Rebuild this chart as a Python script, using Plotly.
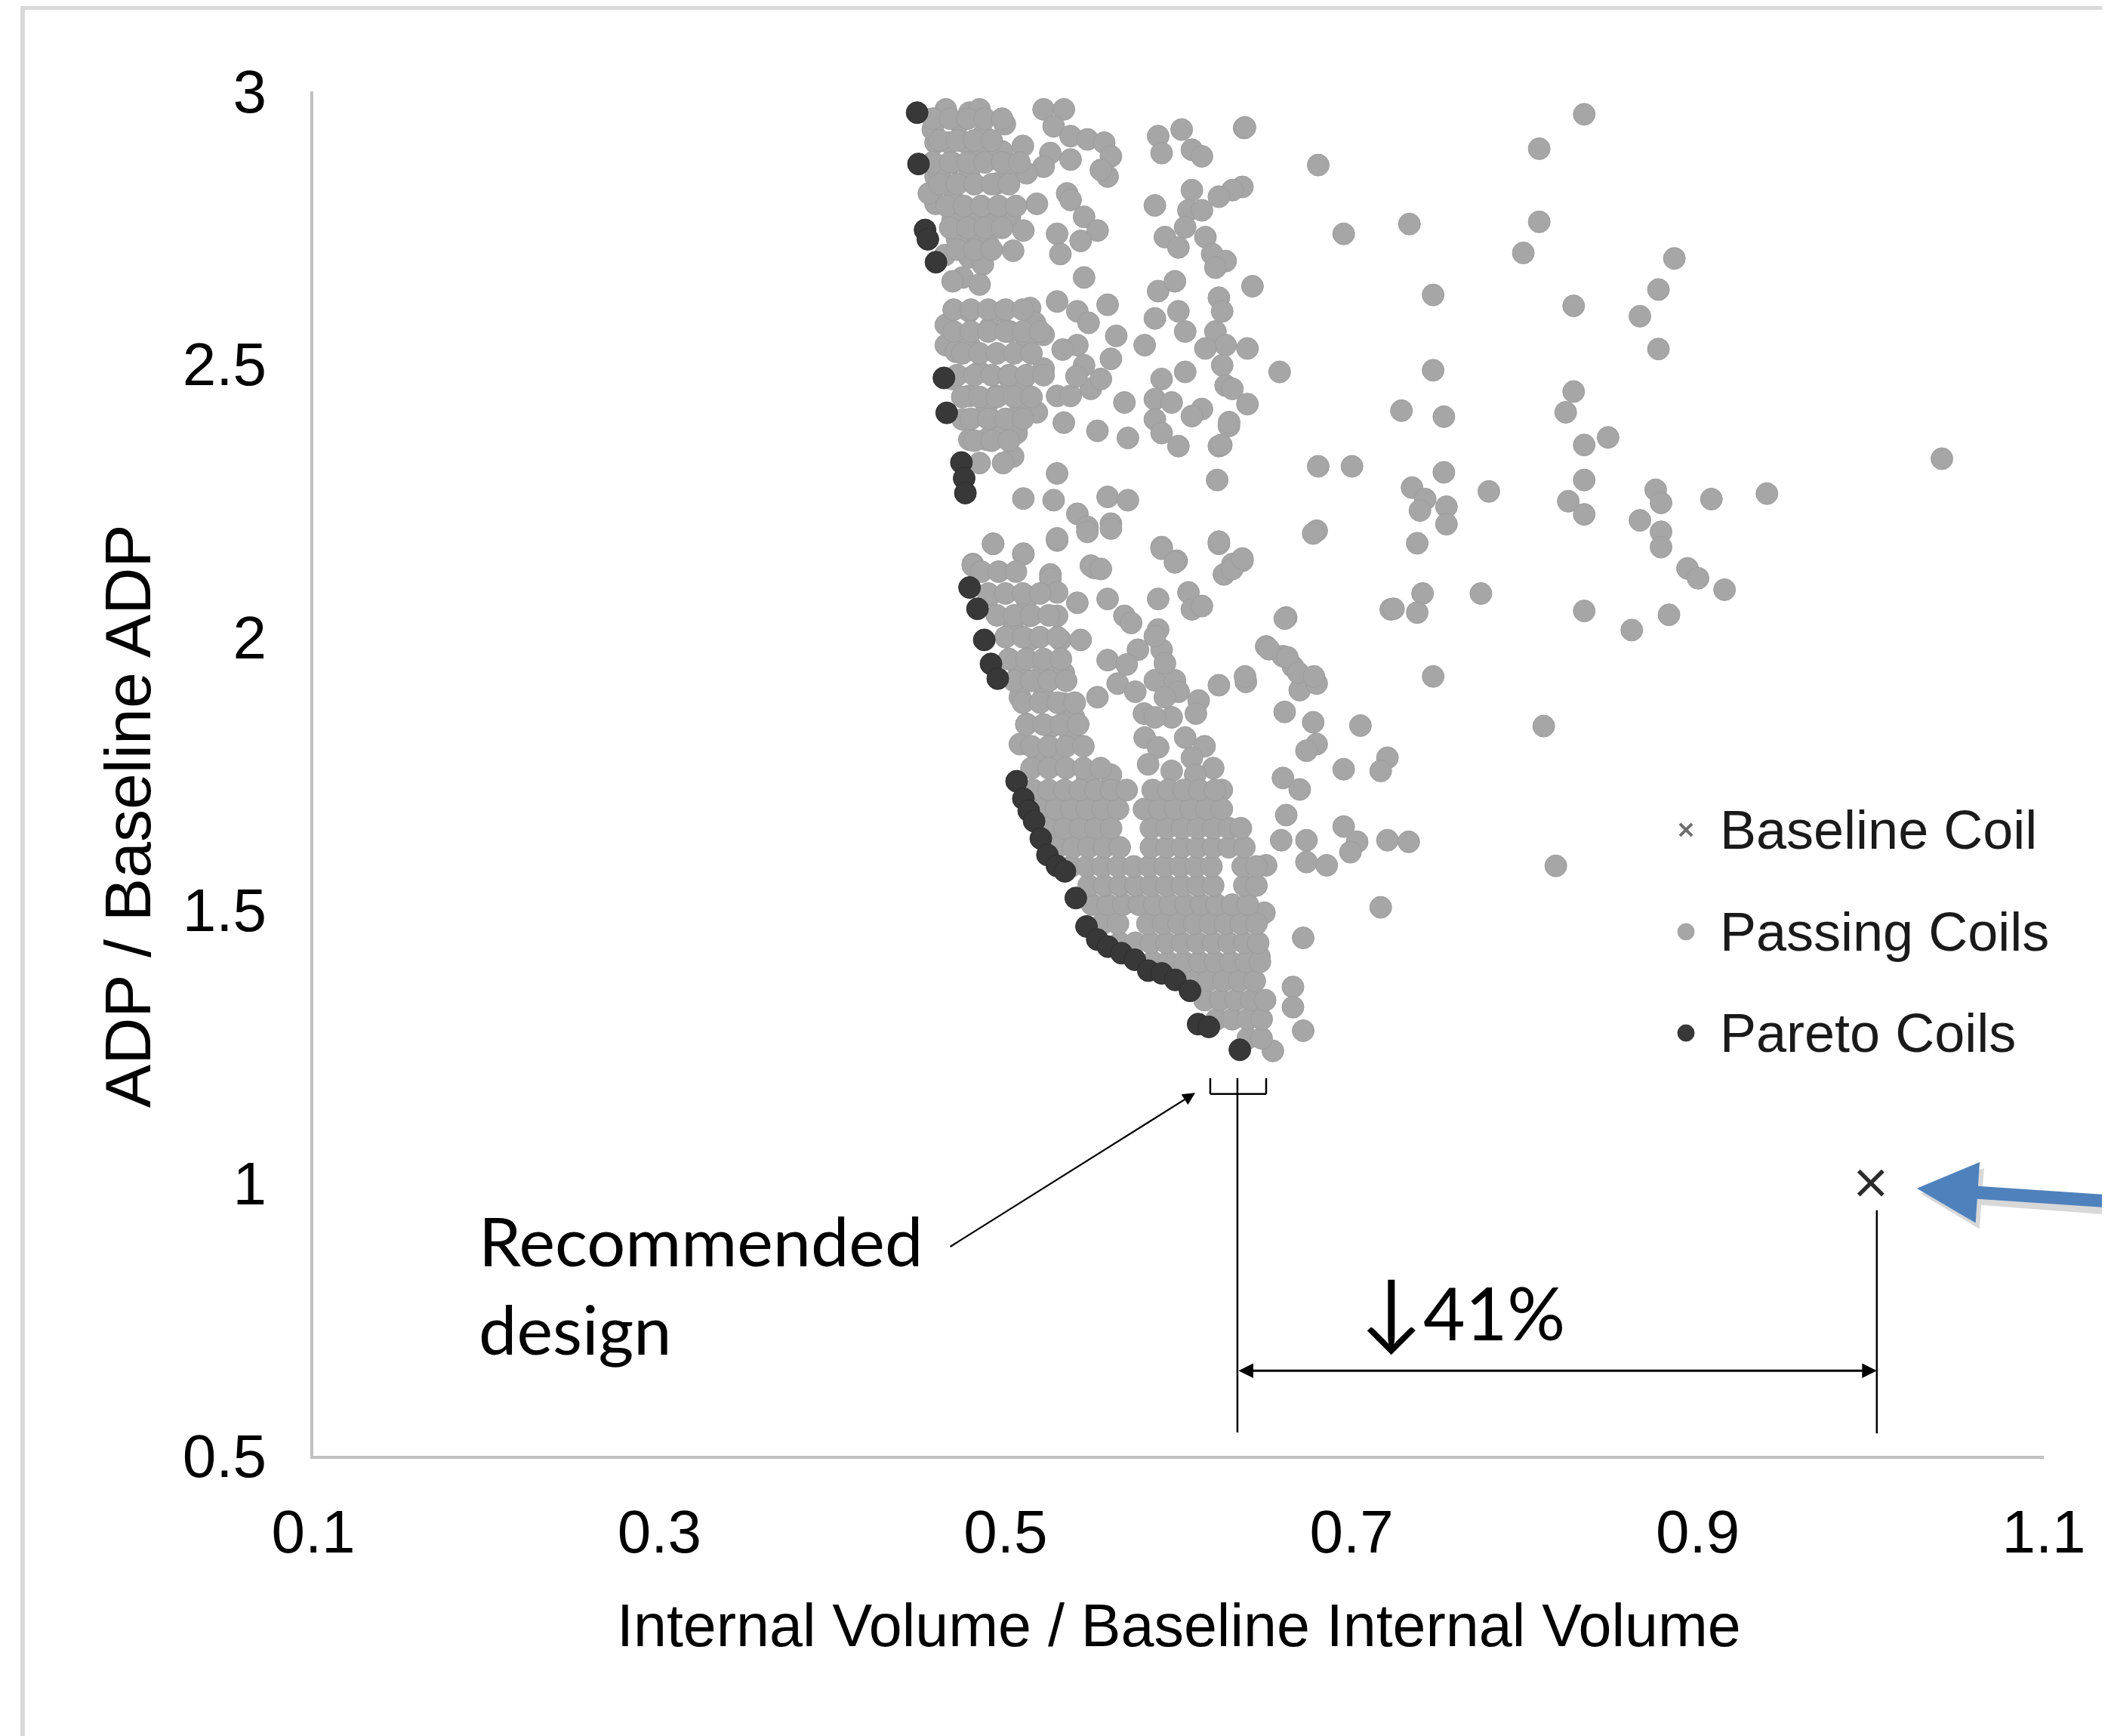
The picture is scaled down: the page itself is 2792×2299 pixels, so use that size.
import plotly.graph_objects as go

# ---------------- data ----------------
pareto_pts = [
    (0.4489, 2.961), (0.4497, 2.867), (0.4535, 2.746), (0.4551, 2.729), (0.4598, 2.687),
    (0.4644, 2.475), (0.4660, 2.411), (0.4745, 2.320), (0.4761, 2.291), (0.4768, 2.264),
    (0.4792, 2.091), (0.4838, 2.052), (0.4877, 1.995), (0.4916, 1.951), (0.4955, 1.924),
    (0.5064, 1.736), (0.5103, 1.704), (0.5134, 1.682), (0.5165, 1.663), (0.5204, 1.631),
    (0.5242, 1.601), (0.5297, 1.581), (0.5343, 1.571), (0.5406, 1.522), (0.5468, 1.470),
    (0.5530, 1.446), (0.5592, 1.433), (0.5670, 1.421), (0.5747, 1.409), (0.5825, 1.389),
    (0.5903, 1.384), (0.5981, 1.372), (0.6066, 1.352), (0.6113, 1.291), (0.6175, 1.286),
    (0.6354, 1.244),
]

passing_upper_left = [
    (0.4655, 2.967), (0.4791, 2.961), (0.4733, 2.943), (0.4674, 2.906), (0.4772, 2.906),
    (0.4850, 2.887), (0.4596, 2.844), (0.4694, 2.869), (0.4791, 2.844), (0.5025, 2.862),
    (0.4947, 2.831), (0.5181, 2.794), (0.4889, 2.782), (0.5025, 2.770), (0.5103, 2.745),
    (0.4791, 2.770), (0.4830, 2.733), (0.4694, 2.764), (0.4596, 2.794), (0.5044, 2.708),
    (0.4791, 2.696), (0.4869, 2.683), (0.4752, 2.659), (0.4850, 2.646), (0.4694, 2.652),
    (0.4996, 2.940), (0.5220, 2.967), (0.5337, 2.967), (0.5278, 2.936), (0.5376, 2.918),
    (0.5473, 2.912), (0.5259, 2.887), (0.5376, 2.875), (0.5570, 2.906), (0.5609, 2.881),
    (0.5590, 2.844), (0.5551, 2.856), (0.5220, 2.862), (0.5122, 2.850), (0.5356, 2.813),
    (0.5376, 2.801), (0.5454, 2.770), (0.5532, 2.745), (0.5298, 2.739), (0.5434, 2.726),
    (0.5317, 2.702), (0.5454, 2.659), (0.4557, 2.813), (0.4596, 2.906), (0.4850, 2.967),
    (0.4870, 2.920), (0.4620, 2.850), (0.4580, 2.930), (0.4700, 2.800), (0.4650, 2.700),
    (0.4720, 2.730), (0.4900, 2.720), (0.4950, 2.760), (0.4980, 2.890), (0.5100, 2.900),
]

# solid blob at the top-left: (row y, x positions)
passing_top_blob_rows = [
    (2.950, [0.458, 0.468, 0.478, 0.488, 0.498]),
    (2.910, [0.462, 0.472, 0.482, 0.492]),
    (2.870, [0.458, 0.468, 0.478, 0.488, 0.498, 0.508]),
    (2.830, [0.462, 0.472, 0.482, 0.492, 0.502]),
    (2.790, [0.466, 0.476, 0.486, 0.496, 0.506]),
    (2.750, [0.468, 0.478, 0.488, 0.498]),
    (2.710, [0.472, 0.482, 0.492]),
]

passing_upper_mid = [
    (0.5882, 2.918), (0.6018, 2.930), (0.6077, 2.893), (0.6135, 2.881), (0.5902, 2.887),
    (0.6379, 2.933), (0.6807, 2.865), (0.6954, 2.739), (0.6369, 2.825), (0.6311, 2.819),
    (0.6233, 2.807), (0.6077, 2.819), (0.6057, 2.782), (0.6135, 2.782), (0.6038, 2.751),
    (0.5921, 2.733), (0.5999, 2.714), (0.6155, 2.733), (0.6194, 2.702), (0.6272, 2.689),
    (0.6213, 2.677), (0.5863, 2.791), (0.6427, 2.643), (0.5882, 2.634), (0.5979, 2.652),
    (0.5999, 2.597), (0.5863, 2.584), (0.6038, 2.560), (0.6233, 2.622), (0.6252, 2.597),
    (0.6213, 2.560), (0.6272, 2.535), (0.6155, 2.529), (0.5804, 2.535), (0.6398, 2.529),
    (0.6584, 2.486), (0.6252, 2.498), (0.6272, 2.461), (0.6311, 2.455), (0.5902, 2.473),
    (0.6038, 2.486), (0.5863, 2.436), (0.5960, 2.430), (0.6135, 2.418), (0.6077, 2.405),
    (0.5863, 2.399), (0.5902, 2.374), (0.5999, 2.350), (0.6291, 2.387), (0.6233, 2.350),
    (0.6398, 2.427), (0.6807, 2.313), (0.7002, 2.313), (0.6798, 2.195), (0.6223, 2.288),
    (0.6233, 2.171), (0.6311, 2.134), (0.6369, 2.140), (0.5902, 2.165), (0.5989, 2.140),
    (0.5512, 2.127), (0.5707, 2.365), (0.5531, 2.378), (0.6384, 2.934), (0.6292, 2.394),
    (0.6247, 2.352), (0.6262, 2.115),
]

passing_middle = [
    (0.5103, 2.254), (0.5298, 2.300), (0.5278, 2.251), (0.5590, 2.257), (0.5707, 2.251),
    (0.5415, 2.226), (0.5473, 2.202), (0.5609, 2.208), (0.5298, 2.177), (0.4928, 2.171),
    (0.5103, 2.152), (0.4811, 2.134), (0.5259, 2.115), (0.4655, 2.572), (0.4655, 2.535),
    (0.4791, 2.597), (0.4986, 2.597), (0.5142, 2.603), (0.5298, 2.615), (0.5415, 2.597),
    (0.5590, 2.609), (0.5220, 2.554), (0.5122, 2.541), (0.5025, 2.560), (0.4908, 2.566),
    (0.4791, 2.535), (0.4713, 2.523), (0.4850, 2.486), (0.4791, 2.442), (0.4889, 2.412),
    (0.4986, 2.381), (0.5044, 2.331), (0.4889, 2.362), (0.4947, 2.442), (0.5025, 2.473),
    (0.5103, 2.473), (0.5220, 2.492), (0.5298, 2.442), (0.5376, 2.442), (0.5493, 2.455),
    (0.5609, 2.510), (0.5551, 2.473), (0.5687, 2.430), (0.5181, 2.412), (0.5337, 2.393),
    (0.5083, 2.412), (0.5415, 2.535), (0.5454, 2.498), (0.4791, 2.362), (0.4752, 2.399),
    (0.4694, 2.473), (0.4850, 2.319), (0.4986, 2.319), (0.5064, 2.374),
    (0.5170, 2.576), (0.5330, 2.527), (0.5410, 2.478), (0.5480, 2.576), (0.5640, 2.552),
]

# solid band around y = 2.35..2.6 next to the front: (row y, x positions)
passing_mid_blob_rows = [
    (2.600, [0.470, 0.480, 0.490, 0.500, 0.510]),
    (2.560, [0.470, 0.480, 0.490, 0.500, 0.510, 0.520]),
    (2.520, [0.475, 0.485, 0.495, 0.505, 0.515]),
    (2.480, [0.472, 0.482, 0.492, 0.502, 0.512, 0.522]),
    (2.440, [0.475, 0.485, 0.495, 0.505, 0.515]),
    (2.400, [0.480, 0.490, 0.500, 0.510]),
    (2.360, [0.482, 0.492, 0.502]),
]

passing_lower_sparse = [
    (0.4928, 2.171), (0.5103, 2.153), (0.5298, 2.181), (0.5473, 2.193), (0.5609, 2.199),
    (0.5493, 2.131), (0.5551, 2.125), (0.5902, 2.162), (0.5979, 2.137), (0.6233, 2.175),
    (0.6311, 2.125), (0.6369, 2.144), (0.6778, 2.190), (0.4811, 2.131), (0.4908, 2.076),
    (0.5122, 2.070), (0.5142, 2.039), (0.5259, 2.107), (0.5298, 2.082), (0.5415, 2.063),
    (0.5298, 2.039), (0.5317, 1.995), (0.5434, 1.995), (0.5590, 2.070), (0.5687, 2.039),
    (0.5726, 2.026), (0.5882, 2.070), (0.6057, 2.082), (0.6077, 2.051), (0.6135, 2.057),
    (0.6622, 2.036), (0.7226, 2.051), (0.5882, 2.014), (0.5902, 1.977), (0.5765, 1.977),
    (0.5590, 1.958), (0.5648, 1.915), (0.5531, 1.890), (0.5863, 1.921), (0.5979, 1.921),
    (0.6116, 1.884), (0.6233, 1.912), (0.6389, 1.918), (0.6506, 1.983), (0.6603, 1.965),
    (0.6661, 1.946), (0.6700, 1.903), (0.6798, 1.915), (0.6613, 1.863), (0.6778, 1.844),
    (0.7051, 1.838), (0.6798, 1.804), (0.6739, 1.792), (0.7207, 1.779), (0.7168, 1.755),
    (0.6954, 1.758), (0.6603, 1.742), (0.6700, 1.721), (0.6622, 1.674), (0.7207, 1.628),
    (0.6954, 1.653), (0.7032, 1.625), (0.6993, 1.606), (0.6593, 1.628), (0.6739, 1.628),
    (0.6739, 1.588), (0.6856, 1.582), (0.6506, 1.582), (0.7168, 1.505), (0.6496, 1.495),
    (0.6720, 1.449), (0.6661, 1.359), (0.6661, 1.322), (0.6720, 1.279), (0.6545, 1.242),
    (0.6467, 1.415), (0.7330, 1.625),
    (0.5700, 1.950), (0.5750, 1.900), (0.5800, 1.860), (0.6000, 1.900), (0.6100, 1.860),
    (0.6150, 1.800), (0.6200, 1.760), (0.6250, 1.720),
]

passing_lower_cluster = [
    (0.5044, 2.014), (0.5142, 1.995), (0.5064, 1.952), (0.5122, 1.921), (0.5220, 1.940),
    (0.5337, 1.934), (0.5083, 1.890), (0.5220, 1.890), (0.5337, 1.878), (0.5395, 1.853),
    (0.5122, 1.841), (0.5259, 1.835), (0.5376, 1.816), (0.5083, 1.804), (0.5181, 1.792),
    (0.5804, 1.816), (0.5882, 1.798), (0.5960, 1.853), (0.6038, 1.816), (0.6077, 1.779),
    (0.5863, 1.853), (0.5921, 1.890), (0.5863, 2.002), (0.5921, 1.952), (0.5824, 1.767),
    (0.5960, 1.755), (0.6096, 1.748), (0.5298, 1.767), (0.5473, 1.742), (0.5609, 1.748),
]

# solid band around y = 1.76..2.12 next to the front: (row y, x positions)
passing_low_blob_rows = [
    (2.120, [0.486, 0.496, 0.506]),
    (2.080, [0.490, 0.500, 0.510, 0.520]),
    (2.040, [0.495, 0.505, 0.515, 0.525]),
    (2.000, [0.500, 0.510, 0.520, 0.530]),
    (1.960, [0.502, 0.512, 0.522, 0.532]),
    (1.920, [0.505, 0.515, 0.525, 0.535]),
    (1.880, [0.510, 0.520, 0.530, 0.540]),
    (1.840, [0.512, 0.522, 0.532, 0.542]),
    (1.800, [0.515, 0.525, 0.535, 0.545]),
    (1.760, [0.515, 0.525, 0.535, 0.545, 0.555]),
]

# dense band next to the lower Pareto front: (row y, x positions)
passing_dense_rows = [
    (1.265, [0.640, 0.648]),
    (1.300, [0.622, 0.631, 0.640, 0.648]),
    (1.335, [0.615, 0.624, 0.633, 0.642, 0.650]),
    (1.370, [0.608, 0.617, 0.626, 0.635, 0.644]),
    (1.405, [0.585, 0.594, 0.603, 0.612, 0.621, 0.630, 0.639, 0.647]),
    (1.440, [0.566, 0.575, 0.584, 0.593, 0.602, 0.611, 0.620, 0.629, 0.638, 0.646]),
    (1.475, [0.556, 0.565, 0.582, 0.591, 0.600, 0.609, 0.618, 0.627, 0.636, 0.645]),
    (1.510, [0.550, 0.559, 0.568, 0.577, 0.586, 0.595, 0.604, 0.613, 0.622, 0.631, 0.640]),
    (1.545, [0.548, 0.557, 0.566, 0.575, 0.584, 0.593, 0.602, 0.611, 0.620, 0.638, 0.645]),
    (1.580, [0.538, 0.547, 0.556, 0.565, 0.574, 0.583, 0.592, 0.601, 0.610, 0.619, 0.637, 0.645]),
    (1.615, [0.530, 0.539, 0.548, 0.557, 0.566, 0.584, 0.593, 0.602, 0.611, 0.620, 0.629, 0.638]),
    (1.650, [0.525, 0.534, 0.543, 0.552, 0.561, 0.584, 0.593, 0.602, 0.611, 0.620, 0.629, 0.636]),
    (1.685, [0.520, 0.529, 0.538, 0.547, 0.556, 0.565, 0.580, 0.589, 0.598, 0.607, 0.616, 0.625]),
    (1.720, [0.516, 0.525, 0.534, 0.543, 0.552, 0.561, 0.570, 0.585, 0.594, 0.603, 0.612, 0.621]),
]

passing_right = [
    (0.8344, 2.958), (0.8084, 2.895), (0.7334, 2.757), (0.8084, 2.761), (0.7992, 2.704),
    (0.8865, 2.694), (0.8773, 2.637), (0.8666, 2.588), (0.8773, 2.528), (0.7471, 2.627),
    (0.8283, 2.607), (0.7471, 2.489), (0.7288, 2.415), (0.7533, 2.404), (0.8283, 2.450),
    (0.8237, 2.412), (0.8344, 2.352), (0.8482, 2.366), (1.0411, 2.327), (0.7533, 2.302),
    (0.7349, 2.274), (0.7425, 2.253), (0.7548, 2.239), (0.7395, 2.232), (0.7548, 2.207),
    (0.7793, 2.267), (0.8344, 2.288), (0.8252, 2.249), (0.8344, 2.225), (0.8757, 2.270),
    (0.8788, 2.246), (0.8666, 2.214), (0.8788, 2.193), (0.8788, 2.165), (0.9079, 2.253),
    (0.9400, 2.263), (0.7379, 2.172), (0.7410, 2.080), (0.7242, 2.052), (0.7379, 2.045),
    (0.7747, 2.080), (0.8344, 2.048), (0.8619, 2.013), (0.8834, 2.041), (0.8941, 2.126),
    (0.9002, 2.108), (0.9155, 2.087), (0.6614, 2.034), (0.6522, 1.978), (0.6629, 1.963),
    (0.6691, 1.935), (0.7471, 1.928), (0.6384, 1.928), (0.6782, 1.928), (0.8110, 1.837),
    (0.8180, 1.581),
]

baseline_x = [1.0]
baseline_y = [1.0]

x_ticks = [0.1, 0.3, 0.5, 0.7, 0.9, 1.1]
x_ticktext = ["0.1", "0.3", "0.5", "0.7", "0.9", "1.1"]
y_ticks = [0.5, 1.0, 1.5, 2.0, 2.5, 3.0]
y_ticktext = ["0.5", "1", "1.5", "2", "2.5", "3"]

legend_labels = ["Baseline Coil", "Passing Coils", "Pareto Coils"]

# ---------------- assemble ----------------
passing_pts = (passing_upper_left + passing_upper_mid + passing_middle
               + passing_lower_sparse + passing_lower_cluster + passing_right)
for rows in (passing_top_blob_rows, passing_mid_blob_rows,
             passing_low_blob_rows, passing_dense_rows):
    for row_y, row_xs in rows:
        passing_pts = passing_pts + [(xv, row_y) for xv in row_xs]

passing_x = [p[0] for p in passing_pts]
passing_y = [p[1] for p in passing_pts]
pareto_x = [p[0] for p in pareto_pts]
pareto_y = [p[1] for p in pareto_pts]

ARIAL = "Liberation Sans, Arial, sans-serif"
CALIBRI = "Lato, DejaVu Sans, sans-serif"
GRAY = "#a6a6a6"
DARK = "#383838"

fig = go.Figure()
fig.add_trace(go.Scatter(
    x=passing_x, y=passing_y, mode="markers", name=legend_labels[1], showlegend=False,
    marker=dict(size=29, color=GRAY, line=dict(width=1, color="#9c9c9c")),
))
fig.add_trace(go.Scatter(
    x=pareto_x, y=pareto_y, mode="markers", name=legend_labels[2], showlegend=False,
    marker=dict(size=29, color=DARK, line=dict(width=1, color="#2e2e2e")),
))
fig.add_trace(go.Scatter(
    x=baseline_x, y=baseline_y, mode="markers", name=legend_labels[0], showlegend=False,
    marker=dict(symbol="x-thin", size=32, color="#2b2b2b",
                line=dict(width=5.5, color="#2b2b2b")),
))

axis_common = dict(
    showgrid=False, zeroline=False, showline=True, linecolor="#c0c0c0",
    linewidth=4, ticks="", tickfont=dict(family=ARIAL, size=80, color="#000000"),
)
fig.update_xaxes(range=[0.1, 1.1], tickvals=x_ticks, ticktext=x_ticktext,
                 ticklabelstandoff=28, **axis_common)
fig.update_yaxes(range=[0.5, 3.0], tickvals=y_ticks, ticktext=y_ticktext,
                 ticklabelstandoff=42, **axis_common)

# manual legend geometry (paper coords)
leg_mark_x = 0.7932
leg_text_x = 0.8120
leg_rows = [0.4588, 0.3841, 0.3099]

shapes = [
    # outer frame
    dict(type="rect", xref="paper", yref="paper", x0=-0.168, x1=1.06,
         y0=-0.23, y1=1.0614, line=dict(color="#d9d9d9", width=6),
         fillcolor="rgba(0,0,0,0)", layer="below"),
    # bracket below the recommended design
    dict(type="line", x0=0.6183, x1=0.6183, y0=1.192, y1=1.163, line=dict(color="black", width=2.5)),
    dict(type="line", x0=0.6506, x1=0.6506, y0=1.192, y1=1.163, line=dict(color="black", width=2.5)),
    dict(type="line", x0=0.6183, x1=0.6506, y0=1.163, y1=1.163, line=dict(color="black", width=2.5)),
    # dimension lines
    dict(type="line", x0=0.634, x1=0.634, y0=1.192, y1=0.543, line=dict(color="black", width=2.5)),
    dict(type="line", x0=1.0035, x1=1.0035, y0=0.950, y1=0.541, line=dict(color="black", width=2.5)),
]
# legend symbols
for dx0, dy0, dx1, dy1 in [(-8, -8, 8, 8), (-8, 8, 8, -8)]:
    shapes.append(dict(type="line", xref="paper", yref="paper",
                       xsizemode="pixel", ysizemode="pixel",
                       xanchor=leg_mark_x, yanchor=leg_rows[0],
                       x0=dx0, x1=dx1, y0=dy0, y1=dy1,
                       line=dict(color="#6e6e6e", width=4)))
for row, col in [(leg_rows[1], GRAY), (leg_rows[2], DARK)]:
    shapes.append(dict(type="circle", xref="paper", yref="paper",
                       xsizemode="pixel", ysizemode="pixel",
                       xanchor=leg_mark_x, yanchor=row,
                       x0=-11, x1=11, y0=-11, y1=11,
                       fillcolor=col, line=dict(color=col, width=1)))

annotations = [
    dict(xref="paper", yref="paper", x=-0.1073, y=0.4687, text="ADP / Baseline ADP",
         textangle=-90, showarrow=False, xanchor="center", yanchor="middle",
         font=dict(family=ARIAL, size=86, color="#000000")),
    dict(xref="paper", yref="paper", x=0.5, y=-0.1245,
         text="Internal Volume / Baseline Internal Volume", showarrow=False,
         xanchor="center", yanchor="middle",
         font=dict(family=ARIAL, size=79, color="#000000")),
    dict(x=0.1945, y=0.815, text="Recommended<br>design", showarrow=False,
         xanchor="left", yanchor="middle", align="left",
         font=dict(family=CALIBRI, size=90, color="#000000")),
    dict(x=0.7640, y=0.772, text="<span style='font-size:112px'>↓</span>41%", showarrow=False,
         xanchor="center", yanchor="middle",
         font=dict(family=CALIBRI, size=96, color="#000000")),
    # pointer to recommended design
    dict(x=0.6096, y=1.165, ax=0.4674, ay=0.882, axref="x", ayref="y", text="",
         showarrow=True, arrowhead=2, arrowsize=1.5, arrowwidth=2.2, arrowcolor="black"),
    # double-headed dimension arrow
    dict(x=1.0035, y=0.656, ax=0.634, ay=0.656, axref="x", ayref="y", text="",
         showarrow=True, arrowhead=2, arrowsize=1.3, arrowwidth=3,
         startarrowhead=2, startarrowsize=1.3, arrowside="end+start", arrowcolor="black"),
    # blue pointer (shadow + arrow)
    dict(x=1.0290, y=0.980, ax=282, ay=19, text="", showarrow=True, arrowhead=2,
         arrowsize=0.95, arrowwidth=17, arrowcolor="rgba(0,0,0,0.15)"),
    dict(x=1.0266, y=0.990, ax=282, ay=17, text="", showarrow=True, arrowhead=2,
         arrowsize=0.95, arrowwidth=17, arrowcolor="#4f81bd"),
]
for label, row in zip(legend_labels, leg_rows):
    annotations.append(dict(xref="paper", yref="paper", x=leg_text_x, y=row, text=label,
                            showarrow=False, xanchor="left", yanchor="middle",
                            font=dict(family=ARIAL, size=72, color="#1a1a1a")))

# page body has an 8px margin: figure is 8px smaller so the plot area lands in place
fig.update_layout(
    width=2784, height=2291,
    margin=dict(l=407, r=85, t=113, b=371, pad=0),
    paper_bgcolor="white", plot_bgcolor="white",
    shapes=shapes, annotations=annotations,
    showlegend=False,
)

fig.write_html("out.html")
